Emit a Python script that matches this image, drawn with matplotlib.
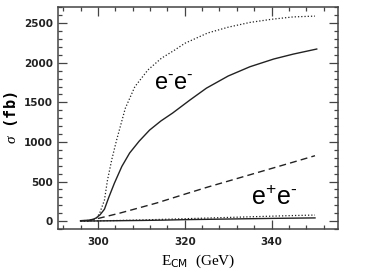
import matplotlib
matplotlib.use("Agg")
import matplotlib.pyplot as plt
from matplotlib.ticker import MultipleLocator

# e-e- curves
e_upper = [296, 298, 299, 299.7, 300.4, 301.5, 302.2, 303.2, 304.3, 306.3, 308.5,
           311.5, 314.6, 317.7, 320, 325.3, 330, 335, 340, 345, 350]
s_upper = [5, 8, 15, 40, 100, 265, 518, 780, 1024, 1425, 1698,
           1909, 2057, 2162, 2246, 2377, 2450, 2510, 2550, 2580, 2590]

e_mid = [296, 298, 299, 299.6, 300.5, 301.5, 302.5, 303.8, 305.5, 307.3, 309.5,
         311.9, 314.5, 317.2, 321.2, 325, 330, 335, 340.5, 345, 350.4]
s_mid = [5, 12, 25, 40, 80, 150, 300, 480, 690, 860, 1010,
         1150, 1265, 1365, 1530, 1680, 1833, 1950, 2048, 2110, 2174]

e_dash = [297.5, 300.4, 305, 310, 313.5, 320, 325.3, 330, 335, 340, 345, 350]
s_dash = [0, 38, 100, 175, 228, 340, 430, 505, 585, 665, 745, 826]

# e+e- curves
e_pm = [296, 300, 305, 310, 315, 320, 325, 330, 335, 340, 345, 350]
s_pm_solid = [0, 2, 5, 8, 12, 18, 22, 26, 30, 34, 37, 40]
s_pm_dot = [0, 3, 8, 14, 22, 30, 38, 46, 54, 62, 70, 76]

plt.rcParams['mathtext.fontset'] = 'custom'
plt.rcParams['mathtext.rm'] = 'Liberation Serif'
plt.rcParams['mathtext.it'] = 'Liberation Serif:italic'
plt.rcParams['mathtext.sf'] = 'DejaVu Sans'

fig = plt.figure(figsize=(3.68, 2.77), dpi=100)
ax = fig.add_axes([0.1576, 0.1733, 0.7609, 0.8014])

lc = '#222222'
ax.plot(e_upper, s_upper, color=lc, lw=0.9, ls=(0, (1, 1.6)))
ax.plot(e_mid, s_mid, color=lc, lw=1.0)
ax.plot(e_dash, s_dash, color=lc, lw=1.0, ls=(0, (5, 3)))
ax.plot(e_pm, s_pm_solid, color=lc, lw=1.0)
ax.plot(e_pm, s_pm_dot, color=lc, lw=0.9, ls=(0, (1, 1.6)))

ax.set_xlim(290.8, 355.3)
ax.set_ylim(-100, 2705)
ax.xaxis.set_major_locator(MultipleLocator(20))
ax.xaxis.set_minor_locator(MultipleLocator(4))
ax.yaxis.set_major_locator(MultipleLocator(500))
ax.yaxis.set_minor_locator(MultipleLocator(100))

spc = '#444444'
for sp in ax.spines.values():
    sp.set_color(spc)
    sp.set_linewidth(1.1)
ax.tick_params(which='both', direction='in', top=True, right=True, colors=spc,
               labelcolor='#222222', labelsize=7.5, width=0.9)
ax.tick_params(which='major', length=6.3)
ax.tick_params(which='minor', length=3)
ax.tick_params(axis='x', pad=6)
for lab in ax.get_xticklabels() + ax.get_yticklabels():
    lab.set_fontweight('bold')

ax.text(0.343, 0.628, 'e$\\mathregular{^{\u2010}}$e$\\mathregular{^{\u2010}}$',
        transform=ax.transAxes, fontsize=17, family='Liberation Sans', color='black')
ax.text(0.69, 0.108, 'e$\\mathregular{^{+}}$e$\\mathregular{^{\u2010}}$',
        transform=ax.transAxes, fontsize=18, family='Liberation Sans', color='black')

ax.set_xlabel(r'E$_{\mathsf{CM}}$  (GeV)', family='Liberation Serif', fontsize=11, labelpad=4)
ax.set_ylabel(r'$\sigma$ (fb)', family='DejaVu Sans Mono', fontweight='bold', fontsize=11, labelpad=3)

fig.savefig('out.png', dpi=100)
